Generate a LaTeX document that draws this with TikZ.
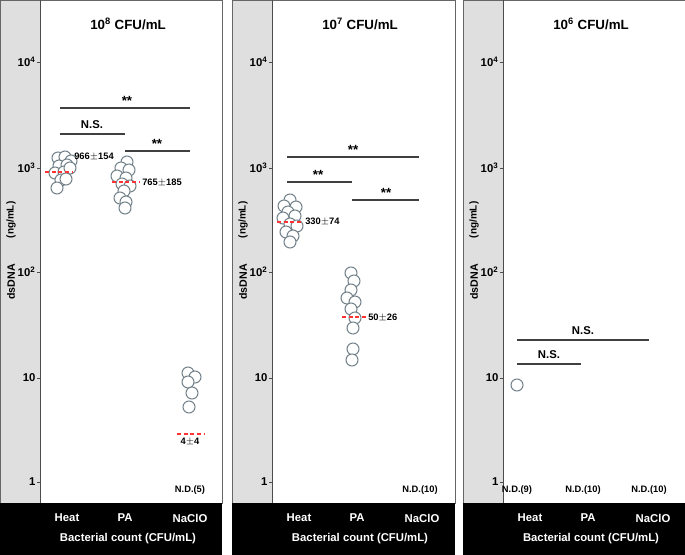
\documentclass[tikz,border=0pt]{standalone}
\usepackage{fontspec}
\setmainfont{Liberation Sans}
\newcommand{\sps}[1]{\textsuperscript{#1}}
\begin{document}
\begin{tikzpicture}[x=0.75pt,y=-0.75pt,
  dot/.style={circle,draw=black!55!cyan!40!gray,line width=0.8pt,fill=white,minimum size=9pt,inner sep=0pt},
  mean/.style={red!80,dashed,line width=0.8pt,dash pattern=on 3pt off 2pt},
  brk/.style={line width=0.8pt,black!75},
  lab/.style={font=\bfseries\fontsize{7}{8}\selectfont,inner sep=0pt},
  star/.style={font=\bfseries\fontsize{10}{10}\selectfont,inner sep=0pt},
  tk/.style={font=\bfseries\fontsize{8.5}{9}\selectfont,anchor=east,inner sep=1pt},
  cat/.style={font=\bfseries\fontsize{8.5}{9}\selectfont,text=white,inner sep=0pt}]
\useasboundingbox (0,0) rectangle (685,555);
\foreach \o/\w in {0/222,232/223,463/222}{
  \fill[gray!25] (\o,0) rectangle (\o+40,503);
  \draw[black!60,line width=0.6pt] (\o,0) rectangle (\o+\w,503);
  \draw[black!70,line width=0.6pt] (\o+40,0) -- (\o+40,503);
  \fill[black] (\o,503) rectangle (\o+\w,555);
  \foreach \yy/\t in {62/{10\sps{4}},168/{10\sps{3}},272/{10\sps{2}},378/{10},482/{1}}{
    \draw[black!70] (\o+37,\yy) -- (\o+40,\yy);
    \node[tk] at (\o+37,\yy) {\t};}
  \node[font=\bfseries\fontsize{8}{9}\selectfont,rotate=90] at (\o+11,282) {dsDNA};
  \node[font=\bfseries\fontsize{7.5}{8}\selectfont,rotate=90] at (\o+11,220) {(ng/mL)};
  \node[cat] at (\o+67,518) {Heat};
  \node[cat] at (\o+125,518) {PA};
  \node[cat] at (\o+190,518) {NaClO};
  \node[cat] at (\o+128,539) {Bacterial count (CFU/mL)};
}
\node[font=\bfseries\fontsize{10}{11}\selectfont] (t1) at (128,24) {10\sps{8} CFU/mL};
\node[font=\bfseries\fontsize{10}{11}\selectfont] (t2) at (360,24) {10\sps{7} CFU/mL};
\node[font=\bfseries\fontsize{10}{11}\selectfont] (t3) at (591,24) {10\sps{6} CFU/mL};
% panel 1
\foreach \x/\y [count=\i] in {58/158,65/157,71/161,59/166,67/165,55/173,64/172,70/168,61/180,57/188,66/179}
  \node[dot] (h\i) at (\x,\y) {};
\draw[mean] (45,172) -- (72,172);
\node[lab,anchor=west] (m1) at (74,157) {966$\pm$154};
\foreach \x/\y [count=\i] in {127/162,121/168,129/170,117/176,126/178,122/184,130/186,124/191,120/198,126/202,125/208}
  \node[dot] (p\i) at (\x,\y) {};
\draw[mean] (112,182) -- (140,182);
\node[lab,anchor=west] (m2) at (142,183) {765$\pm$185};
\foreach \x/\y [count=\i] in {188/373,195/377,188/382,192/393,189/407}
  \node[dot] (n\i) at (\x,\y) {};
\draw[mean] (177,434) -- (204,434);
\node[lab] (m3) at (190,442) {4$\pm$4};
\node[lab] (nd1) at (190,490) {N.D.(5)};
\coordinate (a1) at (60,108); \coordinate (b1) at (190,108);
\draw[brk] (a1) -- (b1); \node[star] at (127,101) {**};
\coordinate (a2) at (60,134); \coordinate (b2) at (125,134);
\draw[brk] (a2) -- (b2); \node[lab,font=\bfseries\fontsize{8.5}{9}\selectfont] at (92,125) {N.S.};
\coordinate (a3) at (125,151); \coordinate (b3) at (190,151);
\draw[brk] (a3) -- (b3); \node[star] at (157,144) {**};
% panel 2
\foreach \x/\y [count=\i] in {290/200,284/206,296/207,288/212,295/216,283/218,290/224,297/226,286/232,293/236,290/242}
  \node[dot] (q\i) at (\x,\y) {};
\draw[mean] (277,222) -- (303,222);
\node[lab,anchor=west] (m4) at (305,222) {330$\pm$74};
\foreach \x/\y [count=\i] in {351/273,354/281,351/290,347/298,355/302,351/309,355/318,353/328,353/349,352/360}
  \node[dot] (r\i) at (\x,\y) {};
\draw[mean] (342,317) -- (366,317);
\node[lab,anchor=west] (m5) at (368,318) {50$\pm$26};
\node[lab] (nd2) at (420,490) {N.D.(10)};
\coordinate (c1) at (287,157); \coordinate (d1) at (419,157);
\draw[brk] (c1) -- (d1); \node[star] at (353,150) {**};
\coordinate (c2) at (287,182); \coordinate (d2) at (352,182);
\draw[brk] (c2) -- (d2); \node[star] at (318,175) {**};
\coordinate (c3) at (352,200); \coordinate (d3) at (419,200);
\draw[brk] (c3) -- (d3); \node[star] at (386,193) {**};
% panel 3
\node[dot] (s1) at (517,385) {};
\node[lab] (nd3) at (517,490) {N.D.(9)};
\node[lab] (nd4) at (583,490) {N.D.(10)};
\node[lab] (nd5) at (649,490) {N.D.(10)};
\coordinate (e1) at (517,340); \coordinate (f1) at (649,340);
\draw[brk] (e1) -- (f1); \node[lab,font=\bfseries\fontsize{8.5}{9}\selectfont] at (583,331) {N.S.};
\coordinate (e2) at (517,364); \coordinate (f2) at (581,364);
\draw[brk] (e2) -- (f2); \node[lab,font=\bfseries\fontsize{8.5}{9}\selectfont] at (549,355) {N.S.};
\end{tikzpicture}
\end{document}
